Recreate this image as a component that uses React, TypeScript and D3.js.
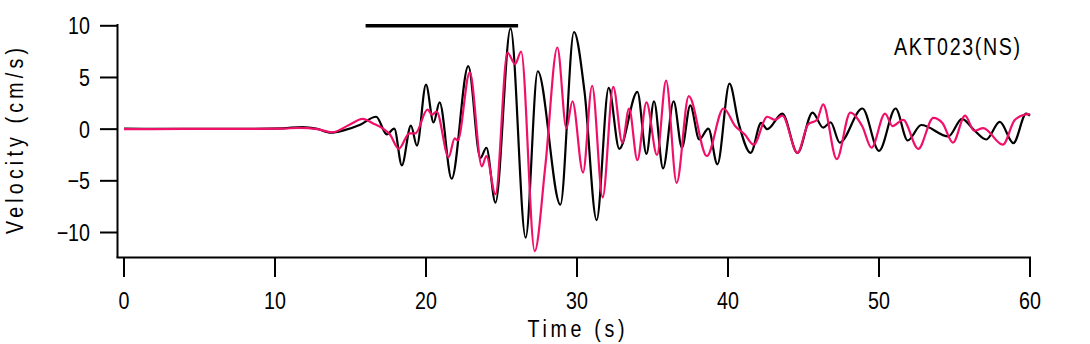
import React, { useRef, useEffect } from 'react';
import * as d3 from 'd3';

// observed (black) and synthetic (magenta) velocity, [time s, cm/s]
const observed: [number, number][] = [
  [0, 0.05], [4, 0.02], [8, 0.03], [10.5, 0.08], [11.8, 0.2], [12.8, 0.02],
  [13.7, -0.35], [14.6, -0.1], [15.6, 0.4], [16.7, 1.2], [17.4, -0.5],
  [17.9, 0.05], [18.4, -3.5], [19.0, 0.35], [19.4, -1.6], [20.0, 4.3],
  [20.5, 0.65], [20.9, 2.6], [21.7, -4.8], [22.8, 6.1], [23.6, -2.8],
  [24.0, -1.8], [24.6, -7.1], [25.6, 9.75], [26.6, -10.5], [27.4, 5.6],
  [28.9, -7.3], [29.8, 9.4], [30.5, 3.6], [31.3, -8.8], [32.1, 4.0],
  [32.8, -1.9], [34.0, 3.6], [34.6, -2.4], [35.1, 2.7], [35.7, -3.8],
  [36.4, 2.7], [36.95, -1.8], [37.5, 2.3], [38.1, -1.0], [38.7, 0.05],
  [39.3, -3.4], [40.1, 4.4], [40.7, 0.6], [41.5, -2.3], [42.2, 0.6],
  [42.6, 0.0], [43.6, 1.5], [44.6, -2.3], [45.6, 1.6], [46.3, 0.15],
  [46.8, 0.65], [47.4, -1.3], [48.9, 2.0], [50.0, -2.1], [51.1, 2.0],
  [51.9, -1.1], [52.8, 0.4], [54.6, -0.7], [55.5, 1.0], [56.3, -0.1],
  [57.1, -1.0], [58.0, 0.7], [58.9, -1.35], [59.75, 1.5], [60, 1.3],
];

const synthetic: [number, number][] = [
  [0, 0], [4, 0.02], [8, 0.03], [10.5, 0.05], [11.6, 0.12], [12.8, 0.0],
  [13.8, -0.3], [14.9, 0.4], [15.8, 1.0], [16.5, 0.55], [17.2, 0.0],
  [17.6, -0.5], [18.2, -1.9], [18.9, -0.4], [19.3, -0.4], [20.1, 1.9],
  [20.4, 1.4], [20.7, 1.7], [21.5, -2.7], [21.9, -0.9], [22.1, -1.1],
  [22.9, 5.5], [23.7, -3.6], [24.0, -2.6], [24.6, -6.3], [25.4, 7.4],
  [25.9, 6.3], [26.3, 7.5], [27.2, -11.8], [27.9, -3.6], [28.7, 7.9],
  [29.3, 0.1], [29.7, 2.7], [30.4, -4.2], [31.0, 4.2], [31.7, -6.6],
  [32.4, 4.1], [33.0, -1.3], [33.45, 2.0], [34.0, -3.0], [34.6, 2.6],
  [35.3, -2.5], [35.9, 4.7], [36.6, -5.2], [37.4, 3.2], [38.6, -2.6],
  [39.7, 2.0], [40.5, 0.25], [41.1, -0.5], [41.7, -1.5], [42.6, 1.2],
  [43.1, 0.9], [43.6, 1.3], [44.6, -2.3], [45.3, 0.45], [45.9, 0.9],
  [46.3, 2.4], [47.2, -2.9], [48.1, 1.6], [48.9, 0.25], [49.5, -1.8],
  [50.4, 1.5], [50.9, 0.3], [51.6, 0.9], [52.6, -1.9], [53.6, 1.1],
  [54.2, 0.6], [54.9, -1.3], [55.7, 1.3], [56.3, -0.15], [56.9, 0.1],
  [58.2, -1.5], [59.0, 0.9], [59.9, 1.45], [60, 1.4],
];

const xTicks = [0, 10, 20, 30, 40, 50, 60];
const yTicks = [10, 5, 0, -5, -10];
const windowSpan = [16, 26.1];
const stationLabel = 'AKT023(NS)';

export default function App() {
  const ref = useRef<SVGSVGElement | null>(null);

  useEffect(() => {
    const font = "'Liberation Sans', Arial, sans-serif";
    const svg = d3.select(ref.current);
    svg.selectAll('*').remove();

    const x = d3.scaleLinear().domain([0, 60]).range([124, 1030]);
    const y = d3.scaleLinear().domain([-10, 10]).range([232.5, 25.8]);
    const axisX = 117.5;
    const axisY = 257.5;

    // narrow tall lettering, like the original plot font
    const label = (tx: number, ty: number, str: string, anchor: string, rot = 0, len?: number) => {
      const t = svg.append('text')
        .attr('transform', `translate(${tx},${ty}) rotate(${rot}) scale(0.82,1)`)
        .attr('text-anchor', anchor)
        .attr('font-family', font)
        .attr('font-size', 24)
        .text(str);
      if (len) t.attr('textLength', len / 0.82).attr('lengthAdjust', 'spacing');
      return t;
    };

    svg.append('line')
      .attr('x1', axisX).attr('x2', axisX)
      .attr('y1', 24).attr('y2', axisY)
      .attr('stroke', '#000').attr('stroke-width', 2);
    svg.append('line')
      .attr('x1', axisX - 1).attr('x2', x(60) + 1)
      .attr('y1', axisY).attr('y2', axisY)
      .attr('stroke', '#000').attr('stroke-width', 2);

    yTicks.forEach((v) => {
      svg.append('line')
        .attr('x1', 100).attr('x2', axisX)
        .attr('y1', y(v)).attr('y2', y(v))
        .attr('stroke', '#000').attr('stroke-width', 2);
      label(90, y(v) + 8.6, String(v).replace('-', '\u2212'), 'end');
    });

    xTicks.forEach((t) => {
      svg.append('line')
        .attr('x1', x(t)).attr('x2', x(t))
        .attr('y1', axisY).attr('y2', 277)
        .attr('stroke', '#000').attr('stroke-width', 2);
      label(x(t), 309, String(t), 'middle');
    });

    label(576, 337, 'Time (s)', 'middle', 0, 97);
    label(23, 141, 'Velocity (cm/s)', 'middle', -90, 186);
    label(894, 55, stationLabel, 'start', 0, 126);

    // analysis window bar
    svg.append('line')
      .attr('x1', x(windowSpan[0])).attr('x2', x(windowSpan[1]))
      .attr('y1', y(10)).attr('y2', y(10))
      .attr('stroke', '#000').attr('stroke-width', 3.5);

    const line = d3.line<[number, number]>()
      .x((d) => x(d[0]))
      .y((d) => y(d[1]))
      .curve(d3.curveMonotoneX);

    [
      [observed, '#000000'],
      [synthetic, '#f0106a'],
    ].forEach(([series, color]) => {
      svg.append('path')
        .datum(series as [number, number][])
        .attr('fill', 'none')
        .attr('stroke', color as string)
        .attr('stroke-width', 2.2)
        .attr('stroke-linejoin', 'round')
        .attr('d', line);
    });
  }, []);

  return (
    <svg
      ref={ref}
      width={1090}
      height={344}
      style={{ position: 'absolute', left: 0, top: 0, background: '#fff' }}
    />
  );
}
